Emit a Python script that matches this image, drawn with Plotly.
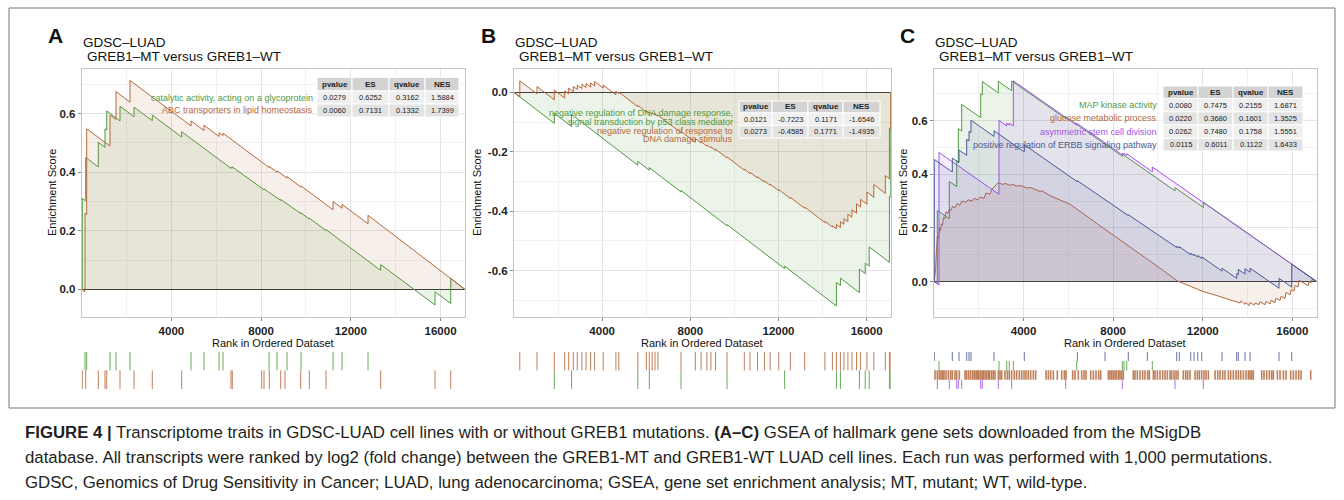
import plotly.graph_objects as go

W, H = 1344, 500
N_GENES = 17090
RANK_TICKS = [4000, 8000, 12000, 16000]
TABLE_HEAD = ["pvalue", "ES", "qvalue", "NES"]
TITLE_1 = "GDSC–LUAD"
TITLE_2 = "GREB1–MT versus GREB1–WT"

GREEN, BROWN, PURPLE, NAVY = "#4f9a3f", "#b4693c", "#a352ec", "#4b5a97"

# ---------------- Panel A data ----------------
a_cat_hits = [27, 178, 740, 1039, 1115, 1708, 2332, 3148, 4459, 6657, 6715, 8026, 8129, 8365,
              8873, 9065, 9765, 10149, 10893, 13332, 15754, 16454]
a_cat_before = [0.000, 0.302, 0.418, 0.485, 0.544, 0.575, 0.589, 0.576, 0.520, 0.413, 0.414, 0.343,
                0.340, 0.330, 0.304, 0.296, 0.259, 0.240, 0.201, 0.065, -0.053, -0.048]
a_cat_after = [0.311, 0.450, 0.502, 0.548, 0.609, 0.625, 0.622, 0.595, 0.538, 0.417, 0.418, 0.346,
               0.343, 0.333, 0.307, 0.299, 0.262, 0.243, 0.204, 0.085, -0.008, 0.038]

a_abc_hits = [147, 223, 1262, 1529, 2154, 4874, 5453, 6122, 6301, 8352, 8708, 9154, 9779,
              11206, 11607, 12766]
a_abc_before = [-0.008, 0.256, 0.489, 0.580, 0.639, 0.558, 0.542, 0.522, 0.525, 0.416, 0.400,
                0.380, 0.349, 0.272, 0.277, 0.224]
a_abc_after = [0.260, 0.548, 0.595, 0.675, 0.713, 0.575, 0.560, 0.535, 0.533, 0.420, 0.405,
               0.385, 0.353, 0.300, 0.290, 0.253]

a_labels = ["catalytic activity, acting on a glycoprotein", "ABC transporters in lipid homeostasis"]
a_pvalue = ["0.0279", "0.0060"]
a_es = ["0.6252", "0.7131"]
a_qvalue = ["0.3162", "0.1332"]
a_nes = ["1.5884", "1.7399"]

# ---------------- Panel B data ----------------
b_p53_hits = [1828, 2613, 5617, 6139, 7577, 9664, 12277, 14627, 14809, 15671, 15934, 16115,
              17032, 17085]
b_p53_before = [-0.104, -0.115, -0.245, -0.262, -0.335, -0.449, -0.593, -0.719, -0.650, -0.674,
                -0.610, -0.585, -0.572, -0.353]
b_p53_after = [-0.070, -0.074, -0.232, -0.253, -0.330, -0.445, -0.585, -0.640, -0.625, -0.595,
               -0.575, -0.520, -0.350, 0.0]

b_dna_hits = [263, 1044, 1828, 2300, 2482, 2690, 2872, 3081, 3267, 3475, 3657, 4047, 4623, 4755,
              5617, 6007, 6139, 6270, 6397, 6529, 7577, 8226, 8489, 8752, 8933, 9142, 9664,
              10449, 10707, 11048, 11361, 11624, 12014, 12536, 13189, 14105, 14446, 14627,
              14809, 14968, 15149, 15331, 15539, 15725, 16011, 16324, 16846, 17032, 17085]
b_dna_before = [-0.015, -0.005, -0.025, -0.019, -0.005, 0.003, 0.010, 0.013, 0.017, 0.018,
                0.022, 0.015, -0.008, -0.004, -0.048, -0.066, -0.070, -0.073, -0.076, -0.080,
                -0.136, -0.168, -0.170, -0.181, -0.187, -0.195, -0.221, -0.262, -0.273, -0.288,
                -0.302, -0.313, -0.331, -0.357, -0.390, -0.438, -0.453, -0.459, -0.455, -0.444,
                -0.435, -0.420, -0.407, -0.386, -0.376, -0.353, -0.340, -0.291, -0.123]
b_dna_after = [0.039, 0.020, 0.008, 0.005, 0.015, 0.020, 0.025, 0.028, 0.030, 0.032,
               0.037, 0.025, 0.004, 0.001, -0.044, -0.062, -0.066, -0.069, -0.072, -0.076,
               -0.131, -0.155, -0.166, -0.177, -0.183, -0.191, -0.217, -0.258, -0.269, -0.284,
               -0.298, -0.309, -0.327, -0.353, -0.386, -0.434, -0.449, -0.445, -0.435, -0.425,
               -0.410, -0.395, -0.375, -0.360, -0.335, -0.310, -0.280, -0.120, 0.0]

b_labels = [["negative regulation of DNA damage response,", "signal transduction by p53 class mediator"],
            ["negative regulation of response to", "DNA damage stimulus"]]
b_pvalue = ["0.0121", "0.0273"]
b_es = ["-0.7223", "-0.4585"]
b_qvalue = ["0.1171", "0.1771"]
b_nes = ["-1.6546", "-1.4935"]

# ---------------- Panel C data ----------------
c_map_hits = [147, 683, 1014, 1085, 1237, 2086, 2157, 2872, 3470, 5882, 8409, 10763, 12027]
c_map_before = [-0.009, 0.234, 0.354, 0.446, 0.561, 0.611, 0.696, 0.703, 0.711, 0.607, 0.467,
                0.338, 0.276]
c_map_after = [0.265, 0.373, 0.450, 0.570, 0.660, 0.700, 0.745, 0.746, 0.7475, 0.614, 0.475,
               0.350, 0.296]

c_asym_hits = [223, 2903, 3247, 3363, 3542, 6373, 8409, 8485, 8606, 9749]
c_asym_before = [-0.013, 0.325, 0.580, 0.583, 0.580, 0.583, 0.472, 0.473, 0.471, 0.409]
c_asym_after = [0.481, 0.600, 0.590, 0.590, 0.748, 0.590, 0.477, 0.478, 0.476, 0.427]

c_erbb_hits = [13, 817, 1117, 1460, 1563, 1652, 2680, 4033, 6400, 7637, 8677, 9526, 10839,
               10955, 11464, 11612, 11777, 11956, 12862, 13519, 13590, 13889, 14113, 15408, 15975]
c_erbb_before = [0.000, 0.408, 0.443, 0.470, 0.524, 0.555, 0.541, 0.483, 0.372, 0.304, 0.246,
                 0.200, 0.127, 0.125, 0.100, 0.097, 0.091, 0.087, 0.039, 0.012, 0.026, 0.028,
                 0.035, -0.025, -0.021]
c_erbb_after = [0.455, 0.460, 0.490, 0.530, 0.560, 0.601, 0.562, 0.510, 0.376, 0.307, 0.249,
                0.203, 0.132, 0.130, 0.106, 0.101, 0.097, 0.092, 0.050, 0.030, 0.045, 0.048,
                0.050, 0.012, 0.065]

c_glu_x = [0, 67, 112, 156, 201, 246, 290, 335, 380, 424,
           491, 536, 625, 692, 759, 826, 938, 1027, 1161, 1250,
           1429, 1518, 1697, 1786, 1965, 2054, 2233, 2322, 2501, 2590,
           2769, 2858, 3082, 3171, 3394, 3483, 3751, 3841, 4198, 4287,
           4734, 4823, 5180, 6074, 7547, 9066, 10093, 10852, 11433, 12013,
           12549, 12996, 13532, 13666, 13711, 13889, 13934, 14068, 14113, 14292,
           14336, 14515, 14560, 14783, 14828, 15006, 15051, 15230, 15274, 15453,
           15498, 15676, 15721, 15900, 15944, 16078, 16123, 16257, 16302, 16436,
           16570, 16704, 16748, 16838, 16882, 17090]
c_glu_y = [0, 0.04, 0.12, 0.17, 0.16, 0.20, 0.19, 0.215, 0.21, 0.24,
           0.235, 0.26, 0.255, 0.27, 0.265, 0.28, 0.275, 0.29, 0.285, 0.30,
           0.295, 0.305, 0.30, 0.31, 0.305, 0.315, 0.31, 0.33, 0.325, 0.345,
           0.36, 0.368, 0.362, 0.366, 0.358, 0.362, 0.355, 0.358, 0.348, 0.351,
           0.336, 0.338, 0.32, 0.288, 0.200, 0.112, 0.050, 0.003, -0.018, -0.037,
           -0.050, -0.062, -0.075, -0.080, -0.072, -0.085, -0.078, -0.090, -0.078, -0.088,
           -0.080, -0.086, -0.075, -0.086, -0.074, -0.083, -0.070, -0.078, -0.062, -0.070,
           -0.055, -0.063, -0.040, -0.050, -0.030, -0.035, -0.015, -0.020, 0.005, -0.002,
           -0.012, -0.016, 0.000, -0.004, 0.008, 0.0]
c_glu_hits = [45, 149, 238, 313, 387, 447, 536, 640, 744, 819, 938, 1012, 1131,
              1384, 1459, 1548, 1638, 1727, 1801, 1876, 1935, 1995, 2069, 2144, 2203, 2278, 2352, 2427, 2486,
              2575, 2650, 2724, 2873, 2948, 3022, 3171, 3275, 3364, 3469, 3588, 3692, 3811, 3915, 4019,
              4109, 4213, 4317, 4436, 4541,
              5002, 5106, 5210, 5330, 5508, 5702, 5821, 5895,
              6193, 6297, 6446, 6595, 6699, 6788,
              6997, 7116, 7235, 7354, 7444,
              7786, 7860, 7935, 8009, 8084, 8158, 8247, 8307, 8381, 8456,
              8902, 8977, 9081, 9200, 9319, 9423, 9543, 9617,
              9796, 9870, 9974, 10093, 10212, 10317, 10421, 10540, 10614, 10719, 10808, 10897,
              11135, 11240, 11329, 11433,
              11656, 11761, 11850, 11954, 12058, 12148, 12252,
              12550, 12669, 12773, 12892, 12996, 13145, 13249, 13368, 13487, 13592, 13696, 13815,
              13934, 14038, 14113, 14187, 14262,
              14634, 14738, 14857, 14976, 15080, 15155,
              15334, 15453, 15602, 15721,
              15929, 16048, 16167, 16286, 16391,
              16822]

c_labels = ["MAP kinase activity", "glucose metabolic process", "asymmetric stem cell division",
            "positive regulation of ERBB signaling pathway"]
c_pvalue = ["0.0080", "0.0220", "0.0262", "0.0115"]
c_es = ["0.7475", "0.3680", "0.7480", "0.6011"]
c_qvalue = ["0.2155", "0.1601", "0.1758", "0.1122"]
c_nes = ["1.6871", "1.3525", "1.5551", "1.6433"]

CAPTION = [
    "<b>FIGURE 4 |</b> Transcriptome traits in GDSC-LUAD cell lines with or without GREB1 mutations. "
    "<b>(A–C)</b> GSEA of hallmark gene sets downloaded from the MSigDB",
    "database. All transcripts were ranked by log2 (fold change) between the GREB1-MT and GREB1-WT "
    "LUAD cell lines. Each run was performed with 1,000 permutations.",
    "GDSC, Genomics of Drug Sensitivity in Cancer; LUAD, lung adenocarcinoma; GSEA, gene set "
    "enrichment analysis; MT, mutant; WT, wild-type.",
]

# ---------------- helpers ----------------
FONT = "Liberation Sans, Arial, Helvetica, sans-serif"


def fx(px):
    return px / W


def fy(py):
    return 1 - py / H


def rgba(hex_color, a):
    h = hex_color.lstrip("#")
    return f"rgba({int(h[0:2], 16)},{int(h[2:4], 16)},{int(h[4:6], 16)},{a})"


def running_path(hits, before, after):
    xs, ys = [0], [0.0]
    for h, b, a in zip(hits, before, after):
        xs += [h, h]
        ys += [b, a]
    xs.append(N_GENES)
    ys.append(0.0)
    return xs, ys


PLOT_TOP, PLOT_BOT = 69.0, 317.0
RUG_TOP, RUG_BOT = 351.7, 389.0

panels = [
    dict(letter="A", x0=81.7, x1=465.0, yr=[-0.094, 0.752],
         yt=[0.0, 0.2, 0.4, 0.6], ytt=["0.0", "0.2", "0.4", "0.6"], ytitle_x=52, letter_x=55,
         curves=[(running_path(a_cat_hits, a_cat_before, a_cat_after), GREEN),
                 (running_path(a_abc_hits, a_abc_before, a_abc_after), BROWN)],
         rug=[(a_abc_hits, GREEN), (a_cat_hits, BROWN)], rug_w=[1, 1],
         table=dict(cols=[317, 352, 389, 425, 459], rows=[77.3, 91, 104, 117], right=315,
                    labels=[[l] for l in a_labels], colors=[GREEN, BROWN],
                    label_centers=[97.5, 110.5],
                    values=[a_pvalue, a_es, a_qvalue, a_nes])),
    dict(letter="B", x0=514.0, x1=890.7, yr=[-0.756, 0.079],
         yt=[-0.6, -0.4, -0.2, 0.0], ytt=["-0.6", "-0.4", "-0.2", "0.0"], ytitle_x=477, letter_x=488,
         curves=[(running_path(b_p53_hits, b_p53_before, b_p53_after), GREEN),
                 (running_path(b_dna_hits, b_dna_before, b_dna_after), BROWN)],
         rug=[(b_dna_hits, BROWN), (b_p53_hits, GREEN)], rug_w=[1, 1],
         table=dict(cols=[739, 772, 808, 843, 880], rows=[101, 113, 125.5, 138], right=735,
                    labels=b_labels, colors=[GREEN, BROWN],
                    label_centers=[117.8, 135.0],
                    values=[b_pvalue, b_es, b_qvalue, b_nes])),
    dict(letter="C", x0=934.0, x1=1316.7, yr=[-0.132, 0.792],
         yt=[0.0, 0.2, 0.4, 0.6], ytt=["0.0", "0.2", "0.4", "0.6"], ytitle_x=903, letter_x=907,
         curves=[(running_path(c_map_hits, c_map_before, c_map_after), GREEN),
                 ((c_glu_x, c_glu_y), BROWN),
                 (running_path(c_asym_hits, c_asym_before, c_asym_after), PURPLE),
                 (running_path(c_erbb_hits, c_erbb_before, c_erbb_after), NAVY)],
         rug=[(c_erbb_hits, NAVY), (c_asym_hits, GREEN), (c_glu_hits, BROWN), (c_map_hits, PURPLE)],
         rug_w=[1, 1, 1.6, 1],
         table=dict(cols=[1163, 1198, 1233, 1268, 1303], rows=[86, 98.5, 111.8, 125, 138.3, 151],
                    right=1159, labels=[[l] for l in c_labels],
                    colors=[GREEN, BROWN, PURPLE, NAVY],
                    label_centers=[105.2, 118.4, 131.6, 144.6],
                    values=[c_pvalue, c_es, c_qvalue, c_nes])),
]

fig = go.Figure()
shapes, annotations = [], []
layout_axes = {}

GRID_MAJOR = "#e4e4e4"
GRID_MINOR = "#f1f1f1"
BORDER = "#c4c4c4"
TICKFONT = dict(family=FONT, size=11.5, color="#1e1e1e", weight="bold")

for i, p in enumerate(panels):
    km, kr = 2 * i + 1, 2 * i + 2
    xm = "x" if km == 1 else f"x{km}"
    ym = "y" if km == 1 else f"y{km}"
    xr, yrr = f"x{kr}", f"y{kr}"
    xdom = [fx(p["x0"]), fx(p["x1"])]

    layout_axes["xaxis" if km == 1 else f"xaxis{km}"] = dict(
        domain=xdom, anchor=ym, range=[0, N_GENES], tickmode="array", tickvals=RANK_TICKS,
        ticktext=[str(v) for v in RANK_TICKS], showgrid=True, gridcolor=GRID_MAJOR, gridwidth=1,
        minor=dict(tickmode="linear", tick0=0, dtick=2000, showgrid=True, gridcolor=GRID_MINOR,
                   gridwidth=1, ticks=""),
        ticks="outside", ticklen=3, tickcolor="#888", tickfont=TICKFONT,
        showline=True, mirror=True, linecolor=BORDER, linewidth=1, zeroline=False, fixedrange=True)
    layout_axes["yaxis" if km == 1 else f"yaxis{km}"] = dict(
        domain=[fy(PLOT_BOT), fy(PLOT_TOP)], anchor=xm, range=p["yr"], tickmode="array",
        tickvals=p["yt"], ticktext=p["ytt"], showgrid=True, gridcolor=GRID_MAJOR, gridwidth=1,
        minor=dict(tickmode="linear", tick0=0, dtick=0.1, showgrid=True, gridcolor=GRID_MINOR,
                   gridwidth=1, ticks=""),
        ticks="outside", ticklen=3, tickcolor="#888", tickfont=TICKFONT,
        showline=True, mirror=True, linecolor=BORDER, linewidth=1,
        zeroline=True, zerolinecolor="#3a3a3a", zerolinewidth=1, fixedrange=True)
    nrows = len(p["rug"])
    layout_axes[f"xaxis{kr}"] = dict(domain=xdom, anchor=yrr, range=[0, N_GENES], visible=False,
                                     fixedrange=True)
    layout_axes[f"yaxis{kr}"] = dict(domain=[fy(RUG_BOT), fy(RUG_TOP)], anchor=xr,
                                     range=[nrows, 0], visible=False, fixedrange=True)

    for (xs, ys), col in p["curves"]:
        fig.add_trace(go.Scatter(x=xs, y=ys, mode="lines", line=dict(color=col, width=1),
                                 fill="tozeroy", fillcolor=rgba(col, 0.11), xaxis=xm, yaxis=ym,
                                 hoverinfo="skip", showlegend=False))

    for r, (hits, col) in enumerate(p["rug"]):
        rx, ry = [], []
        for h in hits:
            rx += [h, h, None]
            ry += [r, r + 1, None]
        fig.add_trace(go.Scatter(x=rx, y=ry, mode="lines",
                                 line=dict(color=rgba(col, 0.85), width=p["rug_w"][r]),
                                 xaxis=xr, yaxis=yrr, hoverinfo="skip", showlegend=False))

    # panel letter, titles, axis titles
    annotations.append(dict(x=fx(p["letter_x"]), y=fy(35), xref="paper", yref="paper",
                            text=f"<b>{p['letter']}</b>", showarrow=False, xanchor="center",
                            yanchor="middle", font=dict(family=FONT, size=21, color="#111")))
    annotations.append(dict(x=fx(p["x0"] - 1), y=fy(42.7), xref="paper", yref="paper", text=TITLE_1,
                            showarrow=False, xanchor="left", yanchor="middle",
                            font=dict(family=FONT, size=13.5, color="#111")))
    annotations.append(dict(x=fx(p["x0"] + 3), y=fy(57), xref="paper", yref="paper", text=TITLE_2,
                            showarrow=False, xanchor="left", yanchor="middle",
                            font=dict(family=FONT, size=13.5, color="#111")))
    annotations.append(dict(x=fx(p["ytitle_x"]), y=fy((PLOT_TOP + PLOT_BOT) / 2), xref="paper",
                            yref="paper", text="Enrichment Score", textangle=-90, showarrow=False,
                            xanchor="center", yanchor="middle",
                            font=dict(family=FONT, size=11, color="#111")))
    annotations.append(dict(x=fx((p["x0"] + p["x1"]) / 2), y=fy(342.7), xref="paper", yref="paper",
                            text="Rank in Ordered Dataset", showarrow=False, xanchor="center",
                            yanchor="middle", font=dict(family=FONT, size=11, color="#111")))

    # statistics table
    t = p["table"]
    cols, rows = t["cols"], t["rows"]
    for j, head in enumerate(TABLE_HEAD):
        shapes.append(dict(type="rect", xref="paper", yref="paper", x0=fx(cols[j]), x1=fx(cols[j + 1]),
                           y0=fy(rows[1]), y1=fy(rows[0]), fillcolor="#d3d3d3",
                           line=dict(color="white", width=1), layer="above"))
        annotations.append(dict(x=fx((cols[j] + cols[j + 1]) / 2), y=fy((rows[0] + rows[1]) / 2),
                                xref="paper", yref="paper", text=f"<b>{head}</b>", showarrow=False,
                                xanchor="center", yanchor="middle",
                                font=dict(family=FONT, size=8, color="#1e1e1e")))
    for r in range(len(t["colors"])):
        fill = "#efefef" if r % 2 == 0 else "#e3e3e3"
        for j in range(4):
            shapes.append(dict(type="rect", xref="paper", yref="paper", x0=fx(cols[j]),
                               x1=fx(cols[j + 1]), y0=fy(rows[r + 2]), y1=fy(rows[r + 1]),
                               fillcolor=fill, line=dict(color="white", width=1), layer="above"))
            annotations.append(dict(x=fx((cols[j] + cols[j + 1]) / 2),
                                    y=fy((rows[r + 1] + rows[r + 2]) / 2), xref="paper", yref="paper",
                                    text=t["values"][j][r], showarrow=False, xanchor="center",
                                    yanchor="middle", font=dict(family=FONT, size=7.5, color="#222")))
        lines = t["labels"][r]
        lh = 8.8
        for li, txt in enumerate(lines):
            yc = t["label_centers"][r] + (li - (len(lines) - 1) / 2) * lh
            annotations.append(dict(x=fx(t["right"]), y=fy(yc), xref="paper", yref="paper", text=txt,
                                    showarrow=False, xanchor="right", yanchor="middle",
                                    font=dict(family=FONT, size=9, color=t["colors"][r])))

# figure frame
shapes.append(dict(type="rect", xref="paper", yref="paper", x0=fx(9), x1=fx(1335), y0=fy(408),
                   y1=fy(8), line=dict(color="#777", width=1), fillcolor="rgba(0,0,0,0)",
                   layer="below"))

# caption
for k, line in enumerate(CAPTION):
    annotations.append(dict(x=fx(23), y=fy(432 + 25 * k), xref="paper", yref="paper", text=line,
                            showarrow=False, xanchor="left", yanchor="middle",
                            font=dict(family=FONT, size=16.8, color="#231f20")))

fig.update_layout(width=W, height=H, margin=dict(l=0, r=0, t=0, b=0), paper_bgcolor="white",
                  plot_bgcolor="white", showlegend=False, shapes=shapes, annotations=annotations,
                  **layout_axes)

fig.write_html("out.html", include_plotlyjs=True, config={"displayModeBar": False},
               post_script="document.body.style.margin='0';")
